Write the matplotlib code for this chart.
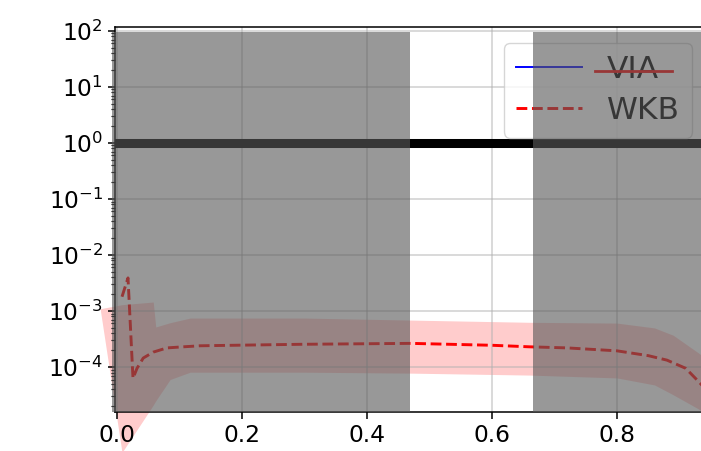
import matplotlib
matplotlib.use("Agg")
import matplotlib.pyplot as plt

# values
wkb_x = [0.008, 0.0176, 0.0256, 0.032, 0.042, 0.058, 0.08, 0.106, 0.133, 0.186,
         0.293, 0.47, 0.6, 0.66, 0.72, 0.8, 0.85, 0.88, 0.91, 0.93, 0.95]
wkb_y = [1.8e-3, 3.9e-3, 6.3e-5, 9.5e-5, 1.45e-4, 1.85e-4, 2.2e-4, 2.3e-4, 2.4e-4, 2.45e-4,
         2.55e-4, 2.65e-4, 2.45e-4, 2.3e-4, 2.2e-4, 1.95e-4, 1.6e-4, 1.33e-4, 9.5e-5, 5.6e-5, 3.2e-5]

band_x = [-0.027, 0.008, 0.058, 0.062, 0.085, 0.117, 0.3, 0.47, 0.66, 0.8, 0.86, 0.89, 0.93, 0.96]
band_hi = [1.1e-3, 1.3e-3, 1.45e-3, 5.2e-4, 6.2e-4, 7.5e-4, 7.5e-4, 6.9e-4, 6.3e-4, 6.1e-4,
           5.0e-4, 3.7e-4, 1.8e-4, 1.0e-4]
band_lo = [1.1e-3, 3e-6, 2.1e-5, 2.5e-5, 6e-5, 8.1e-5, 8.1e-5, 7.8e-5, 7.2e-5, 6.4e-5,
           4.8e-5, 3.2e-5, 1.8e-5, 1.1e-5]

via_x = [0.0058, 0.0070]
via_y = [59, 59]

strike_x = [0.765, 0.888]
strike_y = [19, 19]

spans = [(-0.008, 0.469), (0.666, 1.05)]
ref_level = 1.0

xticks = [0.0, 0.2, 0.4, 0.6, 0.8]

fig = plt.figure(figsize=(7.01, 4.51), dpi=100)
ax = fig.add_axes([115 / 701, 39 / 451, 593 / 701, 385 / 451])
ax.set_yscale('log')

ax.fill_between(band_x, band_lo, band_hi, color='red', alpha=0.2, linewidth=0,
                clip_on=False, zorder=1)
ax.plot(via_x, via_y, color='blue', lw=1.4, label='VIA', zorder=2)
ax.plot(wkb_x, wkb_y, 'r--', lw=2.1, label='WKB', zorder=2)
ax.axhline(ref_level, color='black', lw=6.5, zorder=2)

ax.set_xlim(-0.0032, 0.9456)
ax.set_ylim(1.58e-5, 117)
ax.set_xticks(xticks)

ax.grid(True, color='#b0b0b0', lw=1.1, alpha=0.6)

leg = ax.legend(loc='upper right', fontsize=22.5, handlelength=2.1,
                labelspacing=0.38, framealpha=0.8)
leg.set_zorder(5)

# odd red stroke across the legend text
ax.plot(strike_x, strike_y, color='red', lw=2.0, zorder=6)

# grey masking spans, drawn over everything
for x0, x1 in spans:
    ax.axvspan(x0, x1, ymin=0, ymax=0.987, facecolor='0.35', alpha=0.62,
               linewidth=0, clip_on=False, zorder=10)

ax.tick_params(axis='both', which='major', labelsize=16.8, length=5, width=1.1)
ax.tick_params(axis='y', which='minor', length=2.8, width=0.85)
for sp in ax.spines.values():
    sp.set_linewidth(1.1)

fig.savefig('out.png', dpi=100)
